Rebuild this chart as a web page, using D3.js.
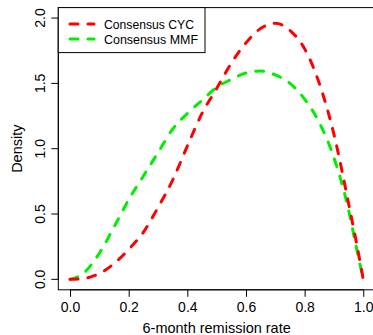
<!DOCTYPE html>
<html>
<head>
<meta charset="utf-8">
<script src="https://cdn.jsdelivr.net/npm/d3@7"></script>
<style>
  html, body { margin: 0; padding: 0; background: #fff; }
  svg { display: block; font-family: "Liberation Sans", Arial, sans-serif; }
</style>
</head>
<body>
<div id="chart"></div>
<script>
// remission rate grid and density values
const rate = [0, 0.05, 0.1, 0.15, 0.2, 0.25, 0.3, 0.35, 0.4, 0.45, 0.5,
  0.55, 0.6, 0.65, 0.7, 0.75, 0.8, 0.85, 0.9, 0.95, 0.975, 1];
const cycDensity = [0, 0.008, 0.045, 0.12, 0.23, 0.36, 0.55, 0.76, 1.02, 1.27, 1.46,
  1.655, 1.81, 1.92, 1.96, 1.905, 1.765, 1.5, 1.11, 0.58, 0.3, 0];
const mmfDensity = [0, 0.055, 0.2, 0.4, 0.61, 0.79, 0.97, 1.15, 1.27, 1.37, 1.47,
  1.53, 1.58, 1.595, 1.565, 1.5, 1.38, 1.2, 0.93, 0.53, 0.26, 0];

const seriesNames = ['Consensus CYC', 'Consensus MMF'];
const seriesColors = ['#ff0000', '#00ee00'];
const xTicks = [0, 0.2, 0.4, 0.6, 0.8, 1.0];
const yTicks = [0, 0.5, 1.0, 1.5, 2.0];

const width = 373, height = 335;

// R style axis ranges: data range expanded by 4% on both sides
const xlim = [0, 1], ylim = [0, 2];
const xpad = (xlim[1] - xlim[0]) * 0.04, ypad = (ylim[1] - ylim[0]) * 0.04;
const x = d3.scaleLinear().domain([xlim[0] - xpad, xlim[1] + xpad]).range([58.3, 375]);
const y = d3.scaleLinear().domain([ylim[0] - ypad, ylim[1] + ypad]).range([289.8, 7.6]);

const svg = d3.select('#chart').append('svg')
  .attr('width', width)
  .attr('height', height);

// plot box
svg.append('rect')
  .attr('x', x.range()[0]).attr('y', y.range()[1])
  .attr('width', x.range()[1] - x.range()[0])
  .attr('height', y.range()[0] - y.range()[1])
  .attr('fill', 'none').attr('stroke', '#000').attr('stroke-width', 1);

// x axis
const xAxis = svg.append('g')
  .attr('transform', `translate(0,${y.range()[0]})`)
  .call(d3.axisBottom(x).tickValues(xTicks).tickFormat(d3.format('.1f')).tickSize(7).tickPadding(5));
xAxis.select('.domain').attr('d', `M${x(0)},0H${x(1)}`);
xAxis.selectAll('text').attr('font-size', 14).attr('font-family', null).attr('fill', '#000');

// y axis with rotated labels
const yAxis = svg.append('g')
  .attr('transform', `translate(${x.range()[0]},0)`)
  .call(d3.axisLeft(y).tickValues(yTicks).tickFormat(d3.format('.1f')).tickSize(7));
yAxis.select('.domain').attr('d', `M0,${y(0)}V${y(2)}`);
yAxis.selectAll('text')
  .attr('font-size', 14).attr('font-family', null).attr('fill', '#000')
  .attr('x', null).attr('dy', null)
  .attr('text-anchor', 'middle')
  .attr('transform', d => `translate(-13.5,${y(d)}) rotate(-90)`)
  .attr('y', 0);
yAxis.selectAll('.tick').attr('transform', 'translate(0,0)');
yAxis.selectAll('.tick line').attr('y1', d => y(d)).attr('y2', d => y(d));

// axis titles
svg.append('text')
  .attr('x', (x.range()[0] + x.range()[1]) / 2).attr('y', 332.5)
  .attr('text-anchor', 'middle').attr('font-size', 14.5)
  .text('6-month remission rate');
svg.append('text')
  .attr('transform', `translate(21.5,${(y.range()[0] + y.range()[1]) / 2}) rotate(-90)`)
  .attr('text-anchor', 'middle').attr('font-size', 14.5)
  .text('Density');

// density curves
const line = d3.line()
  .x(d => x(d[0]))
  .y(d => y(d[1]))
  .curve(d3.curveMonotoneX);

const series = [cycDensity, mmfDensity];
// draw MMF first so CYC sits on top, like the reference
[1, 0].forEach(i => {
  svg.append('path')
    .datum(rate.map((r, j) => [r, series[i][j]]))
    .attr('d', line)
    .attr('fill', 'none')
    .attr('stroke', seriesColors[i])
    .attr('stroke-width', 3)
    .attr('stroke-linecap', 'round')
    .attr('stroke-dasharray', '8,10');
});

// legend
const legend = svg.append('g');
legend.append('rect')
  .attr('x', x.range()[0]).attr('y', y.range()[1])
  .attr('width', 146.7).attr('height', 45)
  .attr('fill', '#fff').attr('stroke', '#000').attr('stroke-width', 1);
seriesNames.forEach((name, i) => {
  const ly = 24 + i * 15;
  legend.append('line')
    .attr('x1', 70).attr('x2', 94).attr('y1', ly).attr('y2', ly)
    .attr('stroke', seriesColors[i]).attr('stroke-width', 3)
    .attr('stroke-linecap', 'round').attr('stroke-dasharray', '8,10');
  legend.append('text')
    .attr('x', 104).attr('y', ly).attr('dy', '0.36em')
    .attr('font-size', 13)
    .attr('textLength', i === 0 ? 90 : 94)
    .attr('lengthAdjust', 'spacingAndGlyphs')
    .text(name);
});
</script>
</body>
</html>
